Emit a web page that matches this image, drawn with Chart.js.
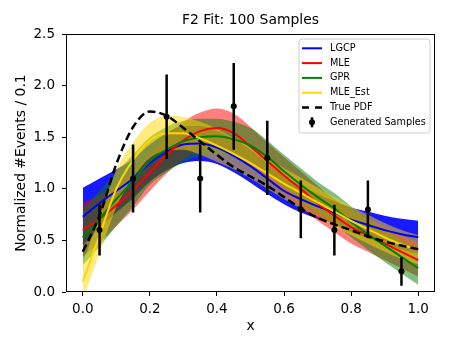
<!DOCTYPE html>
<html><head><meta charset="utf-8">
<script src="https://cdn.jsdelivr.net/npm/chart.js@4"></script>
<style>html,body{margin:0;padding:0;background:#fff}</style>
</head><body>
<canvas id="c" width="450" height="350"></canvas>
<script>
const xGrid = [0,0.05,0.1,0.15,0.2,0.25,0.3,0.35,0.4,0.45,0.5,0.55,0.6,0.65,0.7,0.75,0.8,0.85,0.9,0.95,1.0];
const truePdf = [0.39,0.74,1.24,1.60,1.75,1.71,1.59,1.46,1.33,1.21,1.12,1.03,0.92,0.81,0.72,0.655,0.60,0.54,0.49,0.45,0.415];

const lgcp   = [0.73,0.86,0.98,1.10,1.25,1.36,1.43,1.44,1.40,1.32,1.22,1.10,0.98,0.90,0.83,0.77,0.70,0.65,0.60,0.56,0.53];
const lgcpHi = [1.01,1.10,1.19,1.29,1.43,1.54,1.61,1.61,1.56,1.48,1.38,1.25,1.12,1.03,0.95,0.88,0.82,0.78,0.74,0.71,0.69];
const lgcpLo = [0.45,0.62,0.77,0.91,1.07,1.18,1.25,1.27,1.24,1.16,1.06,0.95,0.85,0.77,0.71,0.66,0.58,0.52,0.46,0.41,0.37];

const mle   = [0.60,0.71,0.84,0.99,1.16,1.33,1.47,1.56,1.59,1.54,1.41,1.27,1.13,1.00,0.86,0.74,0.63,0.55,0.47,0.39,0.31];
const mleHi = [0.86,0.94,1.04,1.18,1.34,1.51,1.65,1.74,1.78,1.73,1.60,1.45,1.31,1.17,1.03,0.90,0.79,0.71,0.63,0.55,0.47];
const mleLo = [0.34,0.48,0.64,0.80,0.98,1.15,1.29,1.38,1.40,1.35,1.22,1.09,0.95,0.83,0.69,0.58,0.47,0.39,0.31,0.23,0.15];

const gpr   = [0.53,0.71,0.90,1.08,1.27,1.38,1.46,1.50,1.51,1.48,1.42,1.31,1.17,1.04,0.92,0.81,0.68,0.56,0.45,0.34,0.23];
const gprHi = [0.80,0.98,1.16,1.33,1.50,1.60,1.66,1.68,1.68,1.65,1.59,1.47,1.33,1.20,1.07,0.96,0.83,0.71,0.61,0.50,0.39];
const gprLo = [0.26,0.44,0.64,0.83,1.04,1.16,1.26,1.32,1.34,1.31,1.25,1.15,1.01,0.88,0.77,0.66,0.53,0.41,0.29,0.18,0.07];

const mleEst   = [0.10,0.55,1.00,1.28,1.47,1.54,1.54,1.49,1.42,1.34,1.25,1.15,1.05,0.96,0.87,0.78,0.69,0.61,0.53,0.46,0.41];
const mleEstHi = [0.28,0.73,1.18,1.45,1.64,1.71,1.70,1.65,1.58,1.49,1.40,1.30,1.20,1.11,1.01,0.92,0.83,0.75,0.67,0.60,0.55];
const mleEstLo = [-0.08,0.37,0.82,1.11,1.30,1.37,1.38,1.33,1.26,1.19,1.10,1.00,0.90,0.81,0.73,0.64,0.55,0.47,0.39,0.32,0.27];

const sampleX   = [0.05,0.15,0.25,0.35,0.45,0.55,0.65,0.75,0.85,0.95];
const sampleY   = [0.6,1.1,1.7,1.1,1.8,1.3,0.8,0.6,0.8,0.2];
const sampleErr = [0.245,0.33,0.41,0.33,0.42,0.36,0.28,0.245,0.28,0.14];

const xTicks = [0,0.2,0.4,0.6,0.8,1.0];
const yTicks = [0,0.5,1.0,1.5,2.0,2.5];

const FONT = "'DejaVu Sans', sans-serif";
const pts = ys => xGrid.map((x,i)=>({x:x, y:ys[i]}));
const errPts = [];
sampleX.forEach((x,i)=>{ errPts.push({x:x,y:sampleY[i]-sampleErr[i]}); errPts.push({x:x,y:sampleY[i]+sampleErr[i]}); errPts.push({x:x,y:null}); });

function band(name, hi, lo, color, order){
  return [
    {label:'_'+name+'_hi', data:pts(hi), borderWidth:0, pointRadius:0, fill:'+1', backgroundColor:color, order:order, cubicInterpolationMode:'monotone'},
    {label:'_'+name+'_lo', data:pts(lo), borderWidth:0, pointRadius:0, fill:false, order:order, cubicInterpolationMode:'monotone'}
  ];
}
function line(name, ys, color, order, dash, width){
  return {label:name, data:pts(ys), borderColor:color, backgroundColor:color, borderWidth:width||2, borderDash:dash||[], pointRadius:0, fill:false, order:order, cubicInterpolationMode:'monotone'};
}

const datasets = [].concat(
  band('LGCP', lgcpHi, lgcpLo, 'rgba(0,0,255,0.9)', 40),
  band('MLE', mleHi, mleLo, 'rgba(255,0,0,0.5)', 39),
  band('GPR', gprHi, gprLo, 'rgba(0,128,0,0.5)', 38),
  band('MLE_Est', mleEstHi, mleEstLo, 'rgba(255,215,0,0.5)', 37),
  [
    line('LGCP', lgcp, '#0000ff', 30),
    line('MLE', mle, '#ff0000', 29),
    line('GPR', gpr, '#008000', 28),
    line('MLE_Est', mleEst, '#ffd700', 27),
    line('True PDF', truePdf, '#000000', 20, [8,4], 2.5),
    {label:'_err', data:errPts, borderColor:'#000', borderWidth:2.5, pointRadius:0, spanGaps:false, fill:false, order:11, tension:0},
    {label:'Generated Samples', data:sampleX.map((x,i)=>({x:x,y:sampleY[i]})), showLine:false, pointRadius:3, pointBackgroundColor:'#000', pointBorderWidth:0, borderColor:'#000', backgroundColor:'#000', order:10}
  ]
);

const framePlugin = {
  id:'frame',
  afterLayout(chart){
    const t = chart.titleBlock;
    if (t){ t.left = chart.chartArea.left; t.right = chart.chartArea.right; }
  },
  afterDraw(chart){
    const ctx = chart.ctx, a = chart.chartArea;
    ctx.save();
    ctx.strokeStyle = '#000'; ctx.lineWidth = 1;
    ctx.strokeRect(Math.round(a.left)+0.5, Math.round(a.top)+0.5, Math.round(a.right-a.left)-1, Math.round(a.bottom-a.top)-1);
    // legend
    const bx = 299, by = 39, bw = 131, bh = 94, r = 3;
    ctx.beginPath();
    ctx.moveTo(bx+r,by); ctx.lineTo(bx+bw-r,by); ctx.quadraticCurveTo(bx+bw,by,bx+bw,by+r);
    ctx.lineTo(bx+bw,by+bh-r); ctx.quadraticCurveTo(bx+bw,by+bh,bx+bw-r,by+bh);
    ctx.lineTo(bx+r,by+bh); ctx.quadraticCurveTo(bx,by+bh,bx,by+bh-r);
    ctx.lineTo(bx,by+r); ctx.quadraticCurveTo(bx,by,bx+r,by); ctx.closePath();
    ctx.fillStyle = 'rgba(255,255,255,0.8)'; ctx.fill();
    ctx.strokeStyle = '#cccccc'; ctx.stroke();
    const items = chart.data.datasets.filter(d => !d.label.startsWith('_'));
    ctx.font = "9.7px " + FONT; ctx.textBaseline = 'middle'; ctx.textAlign = 'left';
    items.forEach((d,i)=>{
      const y = 48.3 + i*14.8;
      ctx.save();
      if (d.showLine === false){
        ctx.strokeStyle = '#000'; ctx.lineWidth = 2.5;
        ctx.beginPath(); ctx.moveTo(312, y-5); ctx.lineTo(312, y+5); ctx.stroke();
        ctx.fillStyle = '#000'; ctx.beginPath(); ctx.arc(312, y, 3, 0, Math.PI*2); ctx.fill();
      } else {
        ctx.strokeStyle = d.borderColor; ctx.lineWidth = d.borderWidth;
        ctx.setLineDash(d.borderDash && d.borderDash.length ? [7,6] : []);
        ctx.beginPath(); ctx.moveTo(302, y); ctx.lineTo(322, y); ctx.stroke();
      }
      ctx.restore();
      ctx.fillStyle = '#000';
      ctx.fillText(d.label, 330, y);
    });
    ctx.restore();
  }
};

new Chart(document.getElementById('c'), {
  type:'line',
  data:{datasets:datasets},
  plugins:[framePlugin],
  options:{
    responsive:false, animation:false, devicePixelRatio:1,
    layout:{padding:{left:0,right:15,top:0,bottom:0}},
    plugins:{
      legend:{display:false}, tooltip:{enabled:false},
      title:{display:true, text:'F2 Fit: 100 Samples', color:'#000', font:{family:FONT, size:13.9, weight:'normal'}, padding:{top:12,bottom:5.5}}
    },
    scales:{
      x:{type:'linear', min:-0.05, max:1.05,
        afterBuildTicks: s => { s.ticks = xTicks.map(v=>({value:v})); },
        afterFit: s => { s.height = 58; },
        ticks:{color:'#000', font:{family:FONT, size:13.5}, padding:5, maxRotation:0, callback:v=>Number(v).toFixed(1)},
        grid:{display:true, drawOnChartArea:false, drawTicks:true, tickLength:4, color:'#000'},
        border:{display:false},
        title:{display:true, text:'x', color:'#000', font:{family:FONT, size:13.9}, padding:{top:0,bottom:15}}
      },
      y:{type:'linear', min:0, max:2.5,
        afterBuildTicks: s => { s.ticks = yTicks.map(v=>({value:v})); },
        afterFit: s => { s.width = 66; },
        ticks:{color:'#000', font:{family:FONT, size:13.5}, padding:7, callback:v=>Number(v).toFixed(1)},
        grid:{display:true, drawOnChartArea:false, drawTicks:true, tickLength:4, color:'#000'},
        border:{display:false},
        title:{display:true, text:'Normalized #Events / 0.1', color:'#000', font:{family:FONT, size:13.9}, padding:{top:13,bottom:0}}
      }
    }
  }
});
</script>
</body></html>
